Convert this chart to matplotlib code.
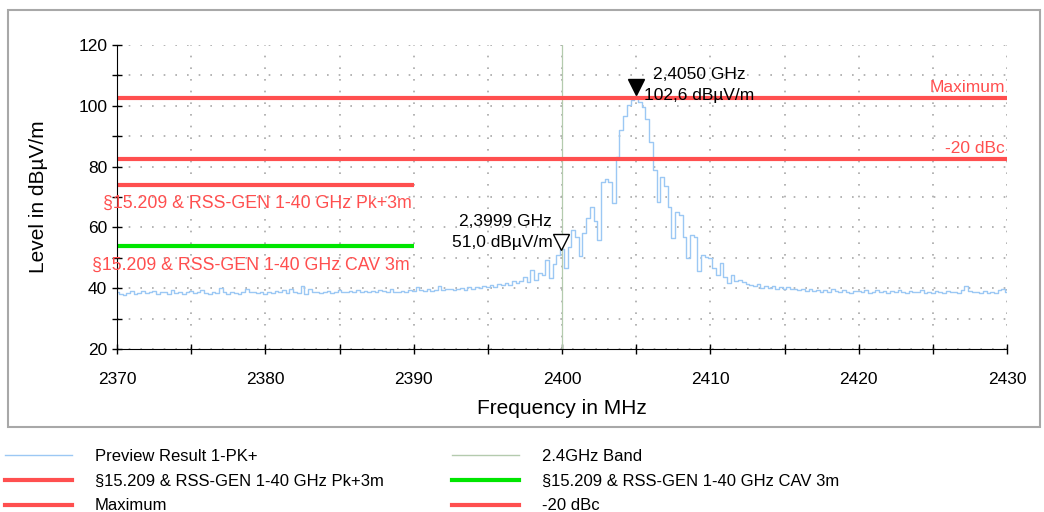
import numpy as np
import matplotlib
matplotlib.use('Agg')
import matplotlib.pyplot as plt
from matplotlib.lines import Line2D
from matplotlib.patches import Rectangle
from matplotlib.transforms import ScaledTranslation

plt.rcParams['font.family'] = ['Liberation Sans', 'DejaVu Sans']

# preview scan, 0.25 MHz steps from 2370 to 2430 MHz (dBuV/m)
level = [
    38.6, 38.0, 37.8, 38.4, 39.1, 38.2, 38.5, 39.0, 38.3, 38.7, 39.2, 38.1,
    38.6, 38.9, 38.2, 39.3, 38.4, 38.8, 38.0, 38.6, 39.0, 38.3, 38.7, 39.4,
    38.5, 38.1, 38.9, 38.4, 40.2, 38.6, 38.2, 38.8, 38.3, 38.0, 38.7, 39.8,
    38.6, 38.9, 38.4, 38.7, 38.2, 38.9, 38.5, 39.1, 38.7, 39.3, 38.5, 39.7,
    38.9, 38.3, 40.6, 38.1, 39.8, 38.8, 38.9, 38.4, 38.7, 39.0, 38.5, 38.9,
    39.3, 38.6, 38.8, 39.0, 38.8, 39.5, 38.9, 39.2, 38.6, 39.0, 38.7, 39.4,
    39.2, 38.9, 39.6, 38.8, 38.7, 39.1, 38.6, 39.3,
    39.0, 40.3, 39.3, 39.1, 39.6, 39.0, 39.4, 40.8, 39.3, 39.7, 39.9, 39.4,
    39.8, 40.2, 39.5, 40.4, 39.9, 40.5, 40.0, 40.7, 40.3, 41.0, 40.5, 41.3,
    40.9, 41.8, 41.2, 42.5, 41.6, 42.3, 43.6, 41.9,
    46.0, 42.7, 45.0, 44.5, 49.3, 43.4, 48.0, 51.0, 53.0, 46.6, 53.5, 59.0,
    57.0, 50.5, 58.0, 63.0, 66.7, 62.0, 55.9, 75.0, 76.0, 75.0, 68.0, 83.0,
    92.0, 96.5, 100.2, 101.8, 102.6, 101.3, 99.6, 95.5, 88.0, 79.0, 68.5, 76.6,
    73.5, 66.7, 56.5, 65.0, 64.0, 57.0, 50.0, 57.5, 57.0, 45.5, 51.0, 50.3,
    50.0, 46.6, 44.3, 48.3, 43.7, 41.7, 44.3, 42.5, 42.8, 42.0, 41.5, 41.0,
    40.8, 41.3, 40.2, 40.6, 40.0, 40.7, 39.8, 40.4, 39.9, 40.5, 39.6, 39.8,
    39.3, 39.9, 39.2, 39.6, 39.0, 39.5, 38.8, 39.4, 38.7, 39.6, 39.1, 38.6,
    39.5, 38.8, 38.5, 39.2, 39.0, 38.6, 39.3, 38.4, 38.9, 39.4, 38.6, 39.0,
    38.3, 39.1, 38.8, 39.5, 38.7, 38.5, 39.2, 38.6, 38.9, 39.3, 38.4, 38.8,
    38.5, 39.0, 38.7, 38.3, 39.1, 38.6, 38.9, 38.5, 39.4, 40.6, 39.2, 38.7,
    38.9, 38.4, 39.0, 38.5, 38.8, 38.3, 39.3, 39.6, 38.7,
]
freq = np.linspace(2370, 2430, len(level))

band_freq = 2400.0
limit_pk = 74.0
limit_cav = 54.0
limit_span = (2370, 2390)
max_level = 102.6
dbc_level = 82.6

mk1 = (2405.0, 102.6)
mk2 = (2399.9, 51.0)

red = '#ff4f4f'
green = '#00e600'
blue = '#9cc8f4'
band_col = '#b4cbae'

fig = plt.figure(figsize=(10.44, 5.12), dpi=100)
fig.patches.append(Rectangle((8 / 1044, 1 - 427 / 512), 1032 / 1044, 417 / 512,
                             transform=fig.transFigure, fill=False,
                             edgecolor='#a8a8a8', lw=1.5))
ax = fig.add_axes([117 / 1044, 1 - 349 / 512, 890 / 1044, 304 / 512])

ax.plot(freq, level, color=blue, lw=1, drawstyle='steps-mid')
ax.axvline(band_freq, color=band_col, lw=0.9)
ax.plot(limit_span, [limit_pk, limit_pk], color=red, lw=3, solid_capstyle='butt')
ax.plot(limit_span, [limit_cav, limit_cav], color=green, lw=3, solid_capstyle='butt')
ax.axhline(max_level, color=red, lw=3)
ax.axhline(dbc_level, color=red, lw=3)

ax.set_xlim(2370, 2430)
ax.set_ylim(20, 120)
ax.set_xticks(np.arange(2370, 2431, 10))
ax.set_xticks(np.arange(2375, 2430, 10), minor=True)
ax.set_yticks(np.arange(20, 121, 20))
ax.set_yticks(np.arange(30, 120, 20), minor=True)
ax.tick_params(which='both', direction='inout', length=7, width=1, labelsize=12.5)
ax.tick_params(axis='x', pad=13)
for s in ['top', 'right']:
    ax.spines[s].set_visible(False)
ax.grid(True, which='both', color='#a8a8a8', lw=1.2, linestyle=(0, (1, 6)))
ax.set_axisbelow(True)
ax.set_xlabel('Frequency in MHz', fontsize=15, labelpad=9)
ax.set_ylabel('Level in dBµV/m', fontsize=15, labelpad=22)

# markers
ax.plot(*mk1, marker='v', ms=12, color='black', linestyle='none',
        transform=ax.transData + ScaledTranslation(0, 11 / 100, fig.dpi_scale_trans))
ax.annotate('2,4050 GHz', mk1, xytext=(17, 23), textcoords='offset pixels',
            ha='left', va='center', fontsize=12.5)
ax.annotate('102,6 dBµV/m', mk1, xytext=(8, 2), textcoords='offset pixels',
            ha='left', va='center', fontsize=12.5)
ax.plot(*mk2, marker='v', ms=12, mfc='white', mec='black', mew=1, linestyle='none',
        transform=ax.transData + ScaledTranslation(0, 13 / 100, fig.dpi_scale_trans))
ax.annotate('2,3999 GHz', mk2, xytext=(-9, 33), textcoords='offset pixels',
            ha='right', va='center', fontsize=12.5)
ax.annotate('51,0 dBµV/m', mk2, xytext=(-8, 12), textcoords='offset pixels',
            ha='right', va='center', fontsize=12.5)

# limit line labels
ax.annotate('Maximum', (2430, max_level), xytext=(-2, 10), textcoords='offset pixels',
            ha='right', va='center', fontsize=12.5, color=red)
ax.annotate('-20 dBc', (2430, dbc_level), xytext=(-2, 10), textcoords='offset pixels',
            ha='right', va='center', fontsize=12.5, color=red)
ax.annotate('§15.209 & RSS-GEN 1-40 GHz Pk+3m', (limit_span[1], limit_pk), xytext=(-2, -18),
            textcoords='offset pixels', ha='right', va='center', fontsize=12.8, color=red)
ax.annotate('§15.209 & RSS-GEN 1-40 GHz CAV 3m', (limit_span[1], limit_cav), xytext=(-4, -20),
            textcoords='offset pixels', ha='right', va='center', fontsize=12.8, color=red)

# legend below the frame
h1 = [Line2D([], [], color=blue, lw=1), Line2D([], [], color=red, lw=3),
      Line2D([], [], color=red, lw=3)]
l1 = ['Preview Result 1-PK+', '§15.209 & RSS-GEN 1-40 GHz Pk+3m', 'Maximum']
h2 = [Line2D([], [], color=band_col, lw=1), Line2D([], [], color=green, lw=3),
      Line2D([], [], color=red, lw=3)]
l2 = ['2.4GHz Band', '§15.209 & RSS-GEN 1-40 GHz CAV 3m', '-20 dBc']
for hs, ls, x0 in [(h1, l1, 5), (h2, l2, 452)]:
    fig.legend(hs, ls, loc='upper left', bbox_to_anchor=(x0 / 1044, 1 - 449 / 512),
               frameon=False, fontsize=12, handlelength=4.0, handletextpad=1.4,
               borderpad=0, borderaxespad=0, labelspacing=0.58)

fig.savefig('out.png', dpi=100)
